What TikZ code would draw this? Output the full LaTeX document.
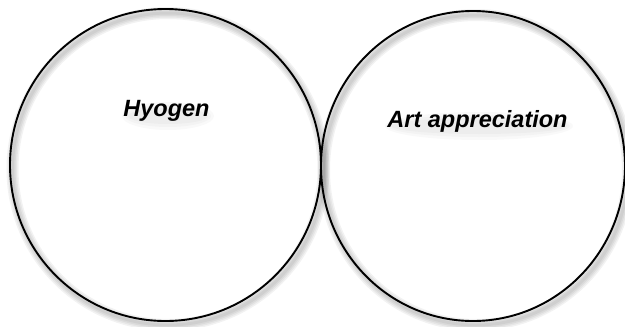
\documentclass[tikz,border=0pt]{standalone}
\usepackage{fontspec}
\setmainfont{Liberation Sans}
\usetikzlibrary{shapes.geometric}
\begin{document}
\begin{tikzpicture}[x=1pt,y=-1pt,
  ring/.style={ellipse,draw=black,line width=1.9pt,inner sep=0pt},
  ringshadow/.style={ellipse,draw=black,inner sep=0pt,draw opacity=0.05},
  glow/.style={ellipse,fill=black,fill opacity=0.025,inner sep=0pt},
  lbl/.style={font=\fontsize{23.5pt}{26pt}\selectfont\bfseries\itshape,inner sep=0pt,text=black}]
\useasboundingbox (0,0) rectangle (625,327);
% soft shadows of the rings
\foreach \w in {3,6,9,12}{
  \node[ringshadow,line width=\w pt,minimum width=311pt,minimum height=312pt] at (168,169) {};
  \node[ringshadow,line width=\w pt,minimum width=304pt,minimum height=310pt] at (476,170) {};
}
% rings
\node[ring,minimum width=311pt,minimum height=312pt] (hyogen) at (165.5,165) {};
\node[ring,minimum width=304pt,minimum height=310pt] (art) at (473,166) {};
% soft glow under labels
\foreach \s in {0,3,6}{
  \node[glow,minimum width=92pt-2*\s pt,minimum height=28pt-2*\s pt] at (168,116) {};
  \node[glow,minimum width=188pt-2*\s pt,minimum height=28pt-2*\s pt] at (479,126) {};
}
% labels
\node[lbl] (t1) at (166.5,111) {Hyogen};
\node[lbl] (t2) at (477.5,121) {Art appreciation};
\end{tikzpicture}
\end{document}
